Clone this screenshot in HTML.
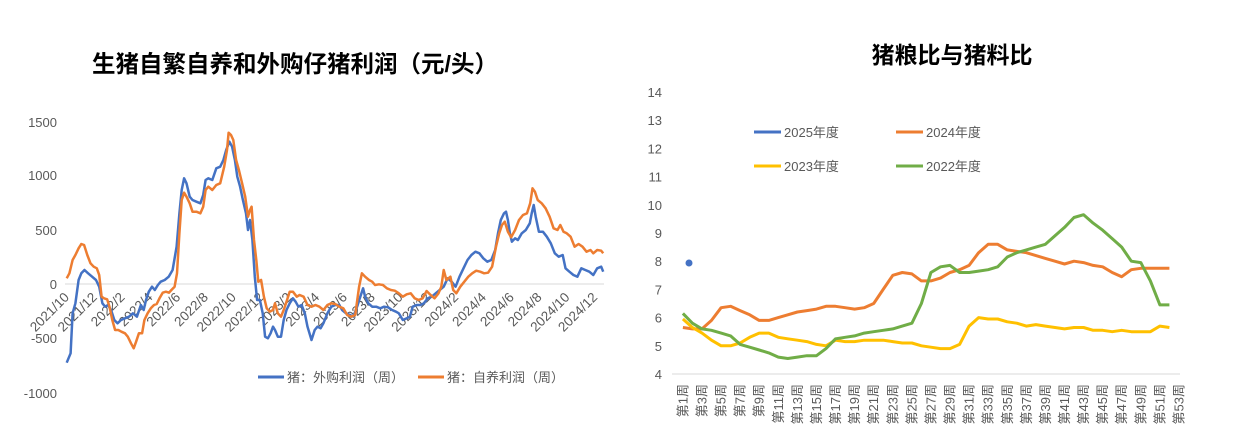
<!DOCTYPE html>
<html><head><meta charset="utf-8"><style>
body{margin:0;background:#fff;}
svg{display:block;font-family:"Liberation Sans","Noto Sans CJK SC",sans-serif;}
</style></head><body>
<svg id="s" width="1259" height="439" xmlns="http://www.w3.org/2000/svg">
<text x="295" y="72" text-anchor="middle" font-size="23.5" font-weight="bold" fill="#000">生猪自繁自养和外购仔猪利润（元/头）</text>
<text x="952" y="63" text-anchor="middle" font-size="23" font-weight="bold" fill="#000">猪粮比与猪料比</text>
<g font-size="13" fill="#595959" text-anchor="end">
<text x="57" y="127">1500</text><text x="57" y="180">1000</text><text x="57" y="235">500</text>
<text x="57" y="289">0</text><text x="57" y="343">-500</text><text x="57" y="398">-1000</text>
</g>
<line x1="65" y1="284" x2="604" y2="284" stroke="#d9d9d9" stroke-width="1"/>
<g id="lx" font-size="13.5" fill="#595959"></g>
<g id="left"></g>
<line x1="258" y1="377" x2="284" y2="377" stroke="#4472c4" stroke-width="3"/>
<text x="287" y="382" font-size="13" fill="#595959">猪：外购利润（周）</text>
<line x1="418" y1="377" x2="444" y2="377" stroke="#ed7d31" stroke-width="3"/>
<text x="447" y="382" font-size="13" fill="#595959">猪：自养利润（周）</text>

<g id="ry" font-size="13" fill="#595959" text-anchor="end"></g>
<line x1="672" y1="374" x2="1180" y2="374" stroke="#d9d9d9" stroke-width="1"/>
<g id="rx" font-size="13" fill="#595959"></g>
<g id="right"></g>
<line x1="754" y1="132" x2="781" y2="132" stroke="#4472c4" stroke-width="3"/><text x="784" y="137" font-size="13" fill="#595959">2025年度</text>
<line x1="896" y1="132" x2="923" y2="132" stroke="#ed7d31" stroke-width="3"/><text x="926" y="137" font-size="13" fill="#595959">2024年度</text>
<line x1="754" y1="166" x2="781" y2="166" stroke="#ffc000" stroke-width="3"/><text x="784" y="171" font-size="13" fill="#595959">2023年度</text>
<line x1="896" y1="166" x2="923" y2="166" stroke="#70ad47" stroke-width="3"/><text x="926" y="171" font-size="13" fill="#595959">2022年度</text>
<circle cx="689" cy="263" r="3.5" fill="#4472c4"/>
</svg>
<script>
var NS="http://www.w3.org/2000/svg";
function el(p,t,a,txt){var e=document.createElementNS(NS,t);for(var k in a)e.setAttribute(k,a[k]);if(txt)e.textContent=txt;document.getElementById(p).appendChild(e);return e;}
var labs=["2021/10","2021/12","2022/2","2022/4","2022/6","2022/8","2022/10","2022/12","2023/2","2023/4","2023/6","2023/8","2023/10","2023/12","2024/2","2024/4","2024/6","2024/8","2024/10","2024/12"];
labs.forEach(function(l,i){var x=70+i*27.8,y=298;el("lx","text",{x:x,y:y,"text-anchor":"end",transform:"rotate(-45 "+x+" "+y+")"},l);});
var B=[168,788,178,760,183,640,190,610,198,540,205,520,213,510,222,520,232,530,242,540,250,560,258,610,265,620,272,615,280,630,288,660,296,670,305,660,315,655,325,650,335,640,345,650,355,615,362,630,368,600,375,575,383,560,390,570,398,555,405,545,415,540,425,530,435,510,445,440,452,340,458,270,464,235,470,250,478,290,485,300,495,305,505,310,512,285,518,240,525,235,535,240,545,205,555,200,563,180,570,150,578,125,585,140,592,180,598,230,605,260,612,300,620,340,625,390,630,360,636,420,642,530,648,600,655,600,662,640,668,710,675,715,682,700,688,680,693,690,700,710,708,710,715,660,722,630,730,610,738,595,745,605,752,620,760,615,768,640,775,680,785,720,793,690,800,680,808,685,815,670,825,640,835,620,845,615,855,615,862,630,872,640,882,645,890,650,900,620,908,590,915,565,920,590,928,610,938,620,948,620,958,625,968,620,978,622,988,630,998,635,1005,640,1015,660,1025,655,1033,650,1040,620,1050,615,1060,615,1068,610,1078,595,1088,590,1098,580,1108,570,1118,560,1128,535,1138,545,1148,560,1158,530,1168,505,1178,480,1188,465,1198,455,1208,460,1218,475,1228,485,1238,480,1248,450,1255,400,1262,360,1270,340,1275,335,1280,360,1285,400,1290,425,1298,415,1305,420,1315,400,1325,390,1335,370,1340,340,1345,315,1350,350,1358,395,1368,395,1378,410,1388,430,1398,460,1408,470,1418,465,1425,505,1435,515,1445,525,1455,530,1465,505,1475,510,1485,515,1495,525,1505,505,1515,500,1520,515];
var O=[168,535,175,520,183,480,190,465,198,445,205,432,212,435,220,465,228,490,236,500,244,505,250,525,256,590,262,595,270,598,276,620,283,660,290,690,298,690,306,695,315,700,322,710,330,730,337,745,343,725,350,700,358,700,364,660,372,640,380,625,388,615,395,612,402,595,410,578,418,575,426,578,432,570,440,560,446,520,452,400,458,300,464,278,470,290,478,310,485,335,495,335,505,340,512,320,518,270,525,260,535,270,545,255,555,250,565,200,572,150,576,98,582,105,588,120,595,180,602,210,610,250,618,290,625,350,630,330,634,320,640,420,646,480,651,545,658,540,665,590,672,625,680,635,688,630,693,610,700,640,708,650,715,630,722,605,730,575,738,575,748,590,755,585,765,590,775,615,785,620,795,615,805,620,815,630,825,615,835,610,845,612,855,620,865,625,875,645,885,650,895,645,905,560,912,520,920,530,930,540,938,545,945,555,955,553,965,555,975,565,985,570,995,572,1005,580,1015,590,1025,583,1035,580,1045,595,1055,600,1065,595,1075,573,1085,585,1095,595,1105,580,1112,560,1118,510,1125,540,1135,530,1142,570,1150,580,1160,560,1170,545,1180,530,1190,520,1200,512,1210,515,1220,520,1230,518,1240,500,1250,440,1258,400,1265,375,1272,365,1280,395,1288,412,1298,390,1308,360,1318,345,1328,340,1336,310,1342,265,1348,275,1355,300,1365,310,1375,325,1385,350,1395,385,1405,390,1412,375,1420,395,1428,400,1438,410,1448,440,1458,432,1468,440,1478,455,1488,450,1495,460,1505,450,1515,452,1520,460];
function zp(a){var s=[];for(var i=0;i<a.length;i+=2)s.push((a[i]/2.52).toFixed(1)+","+(100+a[i+1]/3).toFixed(1));return s.join(" ");}
el("left","polyline",{points:zp(B),fill:"none",stroke:"#4472c4","stroke-width":2.5,"stroke-linejoin":"round"});
el("left","polyline",{points:zp(O),fill:"none",stroke:"#ed7d31","stroke-width":2.5,"stroke-linejoin":"round"});
for(var v=4;v<=14;v++){el("ry","text",{x:662,y:374-(v-4)*28.2+5},""+v);}
for(var w=1;w<=53;w+=2){var x=682.9+(w-1)*9.54+4.5,y=384;el("rx","text",{x:x,y:y,"text-anchor":"end",transform:"rotate(-90 "+x+" "+y+")"},"第"+w+"周");}
var S={"#ed7d31":[5.65,5.6,5.6,5.9,6.35,6.4,6.25,6.1,5.9,5.9,6.0,6.1,6.2,6.25,6.3,6.4,6.4,6.35,6.3,6.35,6.5,7.0,7.5,7.6,7.55,7.3,7.3,7.4,7.6,7.7,7.85,8.3,8.6,8.6,8.4,8.35,8.3,8.2,8.1,8.0,7.9,8.0,7.95,7.85,7.8,7.6,7.45,7.7,7.75,7.75,7.75,7.75],
"#ffc000":[5.95,5.65,5.45,5.2,5.0,5.0,5.1,5.3,5.45,5.45,5.3,5.25,5.2,5.15,5.05,5.0,5.2,5.15,5.15,5.2,5.2,5.2,5.15,5.1,5.1,5.0,4.95,4.9,4.9,5.05,5.7,6.0,5.95,5.95,5.85,5.8,5.7,5.75,5.7,5.65,5.6,5.65,5.65,5.55,5.55,5.5,5.55,5.5,5.5,5.5,5.7,5.65],
"#70ad47":[6.15,5.8,5.6,5.55,5.45,5.35,5.05,4.95,4.85,4.75,4.6,4.55,4.6,4.65,4.65,4.9,5.25,5.3,5.35,5.45,5.5,5.55,5.6,5.7,5.8,6.5,7.6,7.8,7.85,7.6,7.6,7.65,7.7,7.8,8.15,8.3,8.4,8.5,8.6,8.9,9.2,9.55,9.65,9.35,9.1,8.8,8.5,8.0,7.95,7.3,6.45,6.45]};
for(var c in S){var p=S[c].map(function(v,i){return (682.9+i*9.54).toFixed(1)+","+(374-(v-4)*28.2).toFixed(1);}).join(" ");
el("right","polyline",{points:p,fill:"none",stroke:c,"stroke-width":3,"stroke-linejoin":"round"});}
</script>
</body></html>
